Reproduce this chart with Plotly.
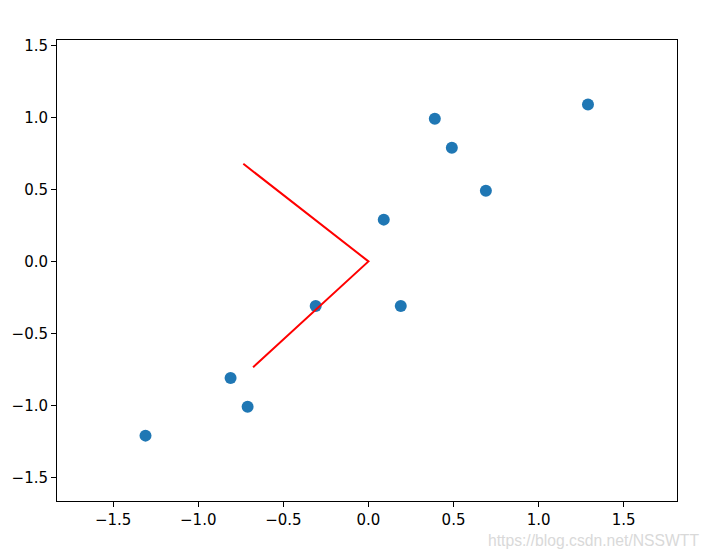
import plotly.graph_objects as go

x_centered = [0.69, -1.31, 0.39, 0.09, 1.29, 0.49, 0.19, -0.81, -0.31, -0.71]
y_centered = [0.49, -1.21, 0.99, 0.29, 1.09, 0.79, -0.31, -0.81, -0.31, -1.01]
vec_x = [-0.7352, 0.0, -0.6779]
vec_y = [0.6779, 0.0, -0.7352]
x_ticks = [-1.5, -1.0, -0.5, 0.0, 0.5, 1.0, 1.5]
y_ticks = [-1.5, -1.0, -0.5, 0.0, 0.5, 1.0, 1.5]

fig = go.Figure()
fig.add_trace(go.Scatter(x=x_centered, y=y_centered, mode="markers",
                         marker=dict(color="#1f77b4", size=12, line=dict(width=0))))
fig.add_trace(go.Scatter(x=vec_x, y=vec_y, mode="lines",
                         line=dict(color="red", width=2)))

axis_common = dict(showgrid=False, zeroline=False, showline=True, linecolor="black",
                   linewidth=1, mirror=True, ticks="outside", ticklen=5, tickwidth=1,
                   tickcolor="black", automargin=False,
                   tickfont=dict(family="DejaVu Sans", size=15, color="black"))
fig.update_layout(
    width=711, height=559,
    margin=dict(l=49, r=42, t=32, b=66),
    paper_bgcolor="white", plot_bgcolor="white",
    showlegend=False,
    xaxis=dict(range=[-1.83, 1.813], tickvals=x_ticks,
               ticktext=[f"{v:.1f}".replace("-", "\u2212") for v in x_ticks], **axis_common),
    yaxis=dict(range=[-1.664, 1.5375], tickvals=y_ticks,
               ticktext=[f"{v:.1f}".replace("-", "\u2212") for v in y_ticks], **axis_common),
)
fig.add_annotation(text="https://blog.csdn.net/NSSWTT", xref="paper", yref="paper",
                   x=1.039, y=-0.085, xanchor="right", yanchor="middle", showarrow=False,
                   font=dict(family="Liberation Sans", size=15.7, color="#d9d9d9"))
fig.write_html("out.html")
